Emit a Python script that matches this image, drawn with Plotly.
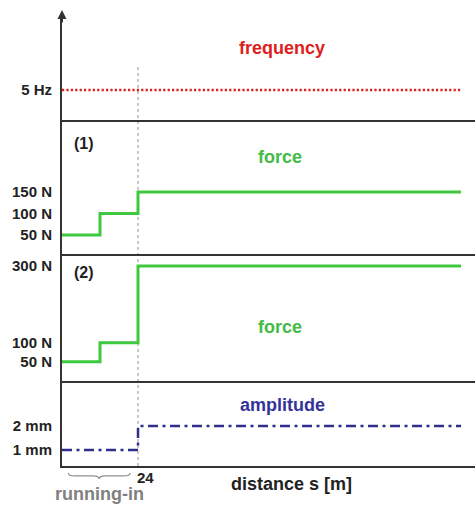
import plotly.graph_objects as go
from plotly.subplots import make_subplots

# Test programme: distance in metres, step changes during running-in
run_in_end = 24
test_end = 126

freq_distance = [0, test_end]
frequency_hz = [5, 5]

force_distance = [0, 12, run_in_end, test_end]
force_1_n = [50, 100, 150, 150]
force_2_n = [50, 100, 300, 300]

amp_distance = [0, run_in_end, test_end]
amplitude_mm = [1, 2, 2]

freq_ticks = [5]
freq_ticktext = ["5 Hz"]
force_1_ticks = [50, 100, 150]
force_1_ticktext = ["50 N", "100 N", "150 N"]
force_2_ticks = [50, 100, 300]
force_2_ticktext = ["50 N", "100 N", "300 N"]
amp_ticks = [1, 2]
amp_ticktext = ["1 mm", "2 mm"]

RED = "#dd2020"
GREEN = "#3ec83e"
NAVY = "#2e2e8e"
AXIS = "#333333"
FONT = "Arial, Liberation Sans, sans-serif"

fig = make_subplots(rows=4, cols=1, shared_xaxes=True, vertical_spacing=0,
                    row_heights=[106, 134, 127, 85])

fig.add_trace(go.Scatter(x=freq_distance, y=frequency_hz, mode="lines",
                         line=dict(color=RED, width=2.5, dash="2.2px,2.2px")),
              row=1, col=1)
fig.add_trace(go.Scatter(x=force_distance, y=force_1_n, mode="lines",
                         line=dict(color=GREEN, width=3, shape="hv")),
              row=2, col=1)
fig.add_trace(go.Scatter(x=force_distance, y=force_2_n, mode="lines",
                         line=dict(color=GREEN, width=3, shape="hv")),
              row=3, col=1)
fig.add_trace(go.Scatter(x=amp_distance, y=amplitude_mm, mode="lines",
                         line=dict(color=NAVY, width=2.5, shape="hv",
                                   dash="10px,4.5px,3px,4.5px")),
              row=4, col=1)

tickfont = dict(family=FONT, size=15, color="#222222", weight="bold")
yaxes = [
    (1, [0, 17.67], freq_ticks, freq_ticktext),
    (2, [5.8, 317], force_1_ticks, force_1_ticktext),
    (3, [0, 331], force_2_ticks, force_2_ticktext),
    (4, [0.33, 3.875], amp_ticks, amp_ticktext),
]
for row, rng, tv, tt in yaxes:
    fig.update_yaxes(range=rng, tickvals=tv, ticktext=tt, tickfont=tickfont,
                     showgrid=False, zeroline=False, showline=True,
                     linecolor=AXIS, linewidth=2, ticks="",
                     ticklabelstandoff=5, row=row, col=1)
    fig.update_xaxes(range=[0, 130.4], showgrid=False, zeroline=False,
                     showline=True, linecolor=AXIS, linewidth=2,
                     showticklabels=False, ticks="", row=row, col=1)

# end of running-in marker
fig.add_shape(type="line", xref="x", yref="paper", x0=run_in_end, x1=run_in_end,
              y0=0, y1=0.8894, layer="below",
              line=dict(color="#b8b8b8", width=1.5, dash="3px,3px"))

# brace under the running-in stretch
bx0, bx1, bc = 2.0, 21.5, 11.75
yt, ym, yb = -0.0155, -0.022, -0.029
brace = (f"M {bx0},{yt} Q {bx0},{ym} {bx0+2},{ym} L {bc-2},{ym} "
         f"Q {bc},{ym} {bc},{yb} Q {bc},{ym} {bc+2},{ym} L {bx1-2},{ym} "
         f"Q {bx1},{ym} {bx1},{yt}")
fig.add_shape(type="path", xref="x", yref="paper", path=brace,
              line=dict(color="#909090", width=1.2))

def label(text, x, y, color, size=18, xanchor="center", xshift=0):
    fig.add_annotation(x=x, y=y, xref="x", yref="paper", text=text,
                       showarrow=False, xanchor=xanchor, yanchor="middle",
                       xshift=xshift,
                       font=dict(family=FONT, size=size, color=color,
                                 weight="bold"))

label("frequency", 69.5, 0.9248, RED)
label("(1)", 6.9, 0.7146, "#222222", size=16)
label("force", 68.8, 0.6836, "#44bb44")
label("(2)", 6.9, 0.4292, "#222222", size=16)
label("force", 68.8, 0.3075, "#44bb44")
label("amplitude", 69.5, 0.1350, "#333399")
label("24", run_in_end, -0.0265, "#222222", size=15, xanchor="left", xshift=-3)
label("distance s [m]", 72.6, -0.0398, "#222222")
label("running-in", 11.7, -0.0619, "#808080")

# arrow head on the vertical axis
fig.add_annotation(x=0, y=1.0088, xref="x", yref="paper", text="",
                   showarrow=True, ax=0, ay=14, arrowhead=2, arrowsize=0.9,
                   arrowwidth=2, arrowcolor=AXIS, standoff=0)

fig.update_layout(width=475, height=506, showlegend=False,
                  margin=dict(l=62, r=0, t=14, b=40),
                  paper_bgcolor="white", plot_bgcolor="rgba(0,0,0,0)")

fig.write_html("out.html")
